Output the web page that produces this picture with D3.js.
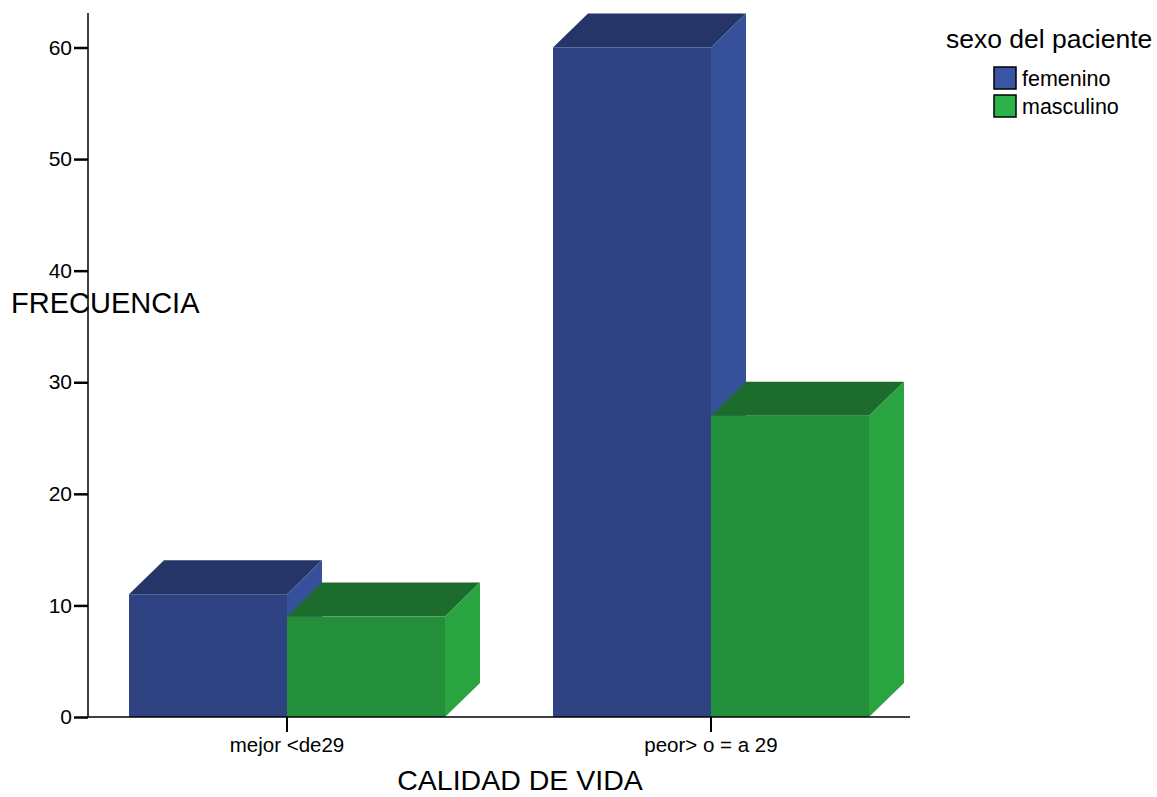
<!DOCTYPE html>
<html>
<head>
<meta charset="utf-8">
<script src="https://cdn.jsdelivr.net/npm/d3@7/dist/d3.min.js"></script>
<style>
  html, body { margin: 0; padding: 0; background: #ffffff; }
  svg { display: block; font-family: "Liberation Sans", Arial, sans-serif; }
</style>
</head>
<body>
<svg id="chart" width="1157" height="797"></svg>
<script>
// Data
const categories = ["mejor <de29", "peor> o = a 29"];
const series = ["femenino", "masculino"];
const femenino = [11, 60];
const masculino = [9, 27];
const yTicks = [0, 10, 20, 30, 40, 50, 60];

const values = { femenino, masculino };
const faceColors = {
  femenino: { front: "#2f4383", top: "#253567", side: "#37509a", legend: "#3a55a6" },
  masculino: { front: "#248f3a", top: "#1c6d2d", side: "#29a441", legend: "#2bb24b" }
};

const svg = d3.select("#chart");

const baseY = 717;
const y = d3.scaleLinear().domain([0, 60]).range([baseY, 47.5]);
const x = d3.scaleBand().domain(categories).range([75, 923]).padding(0);
const xs = d3.scaleBand().domain(series).range([-158, 158]).padding(0);

const depthX = 35, depthY = 34;

// Bars (3D boxes): top, side, then front
const bars = [];
categories.forEach((c, i) => {
  series.forEach(s => bars.push({ cat: c, s, v: values[s][i] }));
});

const g = svg.append("g");
bars.forEach(d => {
  const cx = x(d.cat) + x.bandwidth() / 2;
  const x0 = cx + xs(d.s);
  const x1 = x0 + xs.bandwidth();
  const yt = y(d.v);
  const col = faceColors[d.s];
  // top face
  g.append("polygon")
    .attr("points", [[x0, yt], [x0 + depthX, yt - depthY], [x1 + depthX, yt - depthY], [x1, yt]].map(p => p.join(",")).join(" "))
    .attr("fill", col.top);
  // side face
  g.append("polygon")
    .attr("points", [[x1, yt], [x1 + depthX, yt - depthY], [x1 + depthX, baseY - depthY], [x1, baseY]].map(p => p.join(",")).join(" "))
    .attr("fill", col.side);
  // front face
  g.append("rect")
    .attr("x", x0).attr("y", yt)
    .attr("width", x1 - x0).attr("height", baseY - yt)
    .attr("fill", col.front);
});

// X baseline and category ticks
svg.append("line")
  .attr("x1", 88).attr("x2", 910).attr("y1", baseY).attr("y2", baseY)
  .attr("stroke", "#000").attr("stroke-width", 1.5);

const xAxisG = svg.append("g").attr("transform", `translate(0,${baseY})`);
categories.forEach(c => {
  const cx = x(c) + x.bandwidth() / 2;
  xAxisG.append("line").attr("x1", cx).attr("x2", cx).attr("y1", 0).attr("y2", 15)
    .attr("stroke", "#000").attr("stroke-width", 2);
  xAxisG.append("text").attr("x", cx).attr("y", 35)
    .attr("text-anchor", "middle").attr("font-size", 20.5).attr("fill", "#000").text(c);
});

// Y axis
const yAxis = d3.axisLeft(y).tickValues(yTicks).tickSize(14).tickPadding(2);
const yAxisG = svg.append("g").attr("transform", "translate(88,0)").call(yAxis);
yAxisG.select(".domain").remove();
yAxisG.selectAll(".tick line").attr("stroke", "#000").attr("stroke-width", 2.5);
yAxisG.selectAll(".tick text").attr("font-size", 21).attr("fill", "#000")
  .attr("font-family", "Liberation Sans, Arial, sans-serif");

// Axis titles
svg.append("text").attr("x", 11).attr("y", 313).attr("font-size", 29).attr("fill", "#000").text("FRECUENCIA");
svg.append("text").attr("x", 520).attr("y", 790).attr("text-anchor", "middle").attr("font-size", 28.5).attr("fill", "#000").text("CALIDAD DE VIDA");

// Y axis line drawn over the title
svg.append("line").attr("x1", 88).attr("x2", 88).attr("y1", 13).attr("y2", baseY)
  .attr("stroke", "#000").attr("stroke-width", 1.5);

// Legend
const leg = svg.append("g");
leg.append("text").attr("x", 946).attr("y", 48).attr("font-size", 26.5).attr("fill", "#000").text("sexo del paciente");
series.forEach((s, i) => {
  const yy = 67 + i * 28;
  leg.append("rect").attr("x", 994).attr("y", yy).attr("width", 22).attr("height", 22)
    .attr("fill", faceColors[s].legend).attr("stroke", "#000").attr("stroke-width", 1.5);
  leg.append("text").attr("x", 1022).attr("y", yy + 19).attr("font-size", 21.5).attr("fill", "#000").text(s);
});
</script>
</body>
</html>
